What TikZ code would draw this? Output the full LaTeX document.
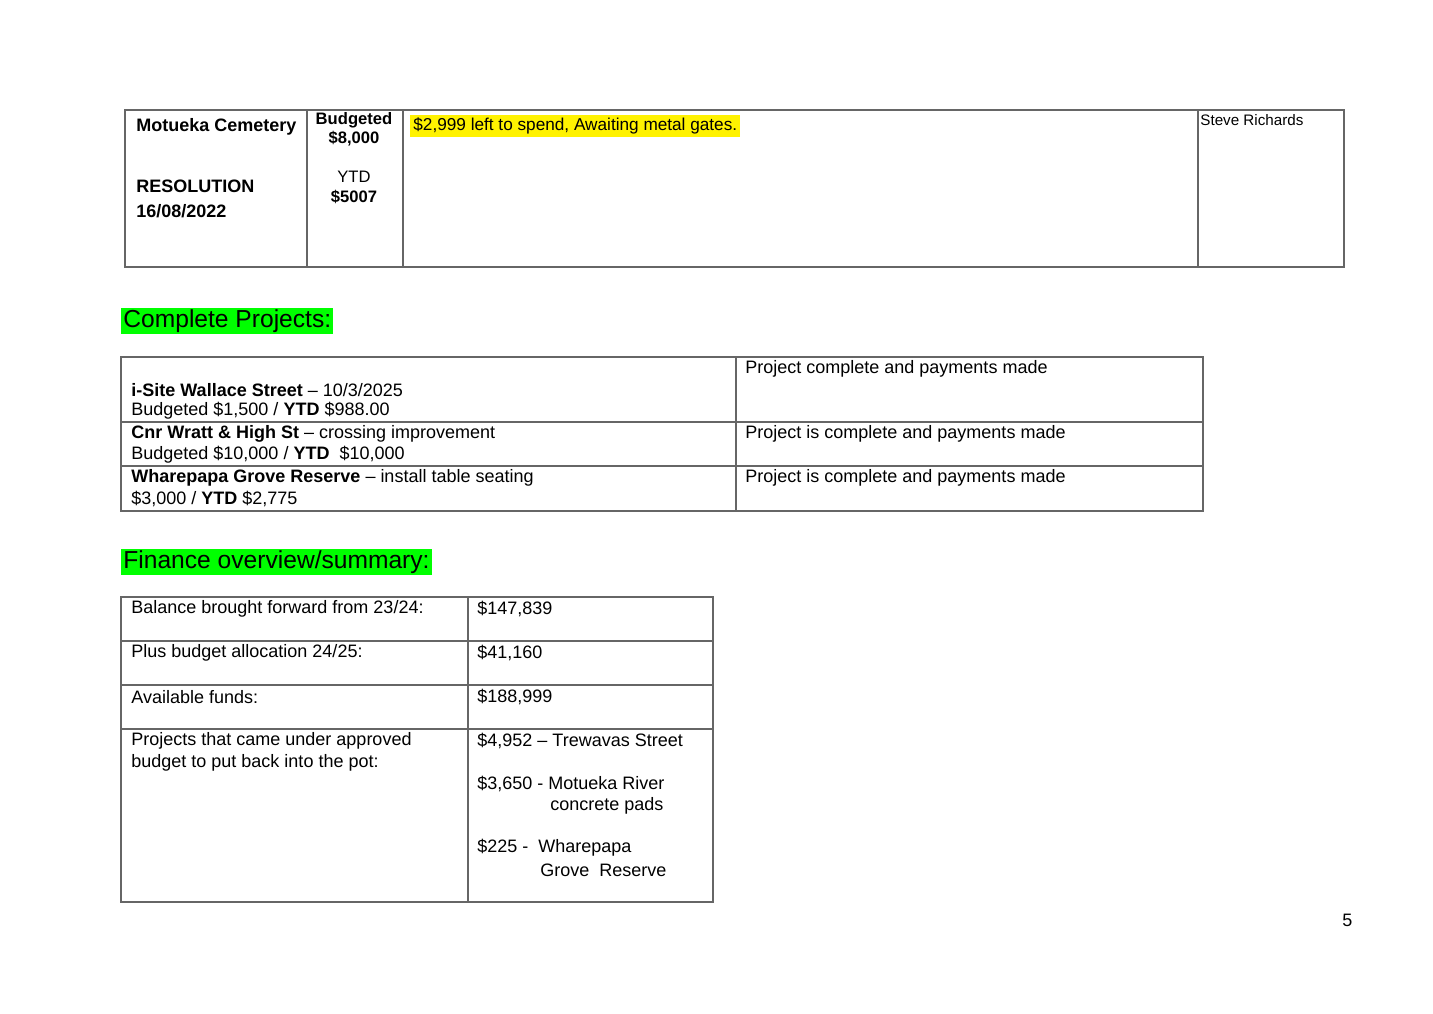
\documentclass[tikz,border=0pt]{standalone}
\usepackage{fontspec}
\setmainfont{Liberation Sans}
\usetikzlibrary{positioning}

\begin{document}
\begin{tikzpicture}[x=0.5pt,y=-0.5pt]
\tikzstyle{txt}=[anchor=west, inner sep=0pt, font=\fontsize{9}{10}\selectfont]
\tikzstyle{ctxt}=[inner sep=0pt, font=\fontsize{8.3}{10}\selectfont]
\tikzstyle{head}=[anchor=west, inner sep=1pt, fill=green, font=\fontsize{12.3}{14}\selectfont]
\tikzstyle{grid}=[draw=black!60, line width=0.6pt]
\useasboundingbox (0,0) rectangle (1433,1013);

% cemetery table
	\draw[grid] (125,110) rectangle (1344,267);
	\draw[grid] (307,110) -- (307,267) (403,110) -- (403,267) (1198,110) -- (1198,267);
	\node[txt] (cem) at (136,127) {\bfseries Motueka Cemetery};
	\node[txt] (res) at (136,186) {\bfseries RESOLUTION};
	\node[txt] (date) at (136,211) {\bfseries 16/08/2022};
	\node[ctxt] (bud) at (354,120) {\bfseries Budgeted};
	\node[ctxt] (budv) at (354,139) {\bfseries \$8,000};
	\node[ctxt] (ytd) at (354,177) {YTD};
	\node[ctxt] (ytdv) at (354,197) {\bfseries \$5007};
	\node[txt, fill=yellow, inner sep=1.5pt, font=\fontsize{8.6}{10}\selectfont] (note) at (410,126) {\$2,999 left to spend, Awaiting metal gates.};
	\node[txt, font=\fontsize{7.6}{9}\selectfont] (who) at (1200,120) {Steve Richards};

% complete projects
	\node[head] (hcp) at (121,321) {Complete Projects:};
	\draw[grid] (121,357) rectangle (1203,511);
	\draw[grid] (736,357) -- (736,511) (121,422) -- (1203,422) (121,466) -- (1203,466);
	\node[txt] (p1a) at (131,390) {\textbf{i-Site Wallace Street} -- 10/3/2025};
	\node[txt] (p1b) at (131,411) {Budgeted \$1,500 / \textbf{YTD} \$988.00};
	\node[txt] (p1c) at (745,369) {Project complete and payments made};
	\node[txt] (p2a) at (131,434) {\textbf{Cnr Wratt \& High St} -- crossing improvement};
	\node[txt] (p2b) at (131,455) {Budgeted \$10,000 / \textbf{YTD}\ \ \$10,000};
	\node[txt] (p2c) at (745,434) {Project is complete and payments made};
	\node[txt] (p3a) at (131,478) {\textbf{Wharepapa Grove Reserve} -- install table seating};
	\node[txt] (p3b) at (131,499) {\$3,000 / \textbf{YTD} \$2,775};
	\node[txt] (p3c) at (745,478) {Project is complete and payments made};

% finance summary
	\node[head] (hfin) at (121,562) {Finance overview/summary:};
	\draw[grid] (121,597) rectangle (713,902);
	\draw[grid] (468,597) -- (468,902) (121,641) -- (713,641) (121,685) -- (713,685) (121,729) -- (713,729);
	\node[txt] (f1) at (131,609) {Balance brought forward from 23/24:};
	\node[txt] (f1v) at (477,609) {\$147,839};
	\node[txt] (f2) at (131,653) {Plus budget allocation 24/25:};
	\node[txt] (f2v) at (477,653) {\$41,160};
	\node[txt] (f3) at (131,697) {Available funds:};
	\node[txt] (f3v) at (477,697) {\$188,999};
	\node[txt] (f4) at (131,741) {Projects that came under approved};
	\node[txt] (f4b) at (131,763) {budget to put back into the pot:};
	\node[txt] (f4v) at (477,741) {\$4,952 -- Trewavas Street};
	\node[txt] (f5v) at (477,784) {\$3,650 - Motueka River};
	\node[txt] (f5b) at (550,806) {concrete pads};
	\node[txt] (f6v) at (477,848) {\$225 -\ \ Wharepapa};
	\node[txt] (f6b) at (540,870) {Grove\ \ Reserve};

	\node[txt] (page) at (1342,920) {5};
\end{tikzpicture}
\end{document}
